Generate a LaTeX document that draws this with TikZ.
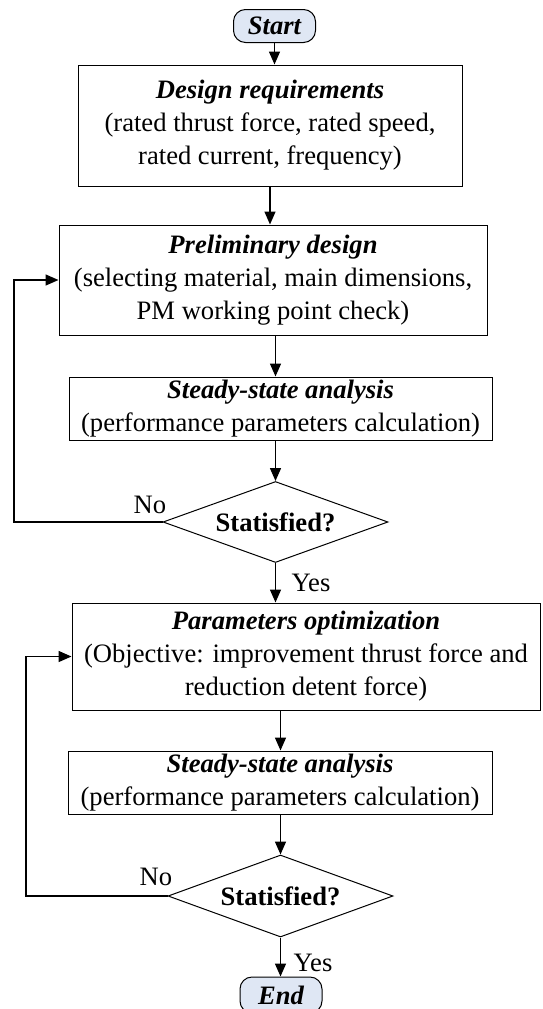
\documentclass[tikz,border=0pt]{standalone}
\usepackage{fontspec}
\setmainfont{Liberation Serif}
\usetikzlibrary{arrows.meta,shapes.geometric}
\definecolor{termfill}{HTML}{DFE7F4}
\tikzset{
  box/.style={draw, line width=1pt, align=center, inner sep=0pt,
    font=\fontsize{26.6}{33}\selectfont},
  term/.style={draw, line width=1pt, rounded corners=12pt, fill=termfill,
    inner sep=0pt, font=\fontsize{26.6}{33}\selectfont\bfseries\itshape},
  dec/.style={draw, line width=1pt, diamond, aspect=2.74, inner sep=0pt,
    font=\fontsize{26.6}{33}\selectfont\bfseries},
  arr/.style={line width=1.5pt, -{Triangle[length=13pt,width=11pt]}},
  lbl/.style={font=\fontsize{26.6}{33}\selectfont, inner sep=0pt}
}
\begin{document}
\begin{tikzpicture}[x=1pt,y=-1pt]
\useasboundingbox (0,0) rectangle (542,1009);
\fill[white] (0,0) rectangle (542,1009);

\node[term, minimum width=82pt, minimum height=33pt] (start) at (274.5,26) {Start};

\node[box, minimum width=384pt, minimum height=121pt] (design) at (270,125.5)
  {\textbf{\textit{Design requirements}}\\(rated thrust force, rated speed,\\rated current, frequency)};

\node[box, minimum width=428pt, minimum height=110pt] (pre) at (273,280)
  {\textbf{\textit{Preliminary design}}\\(selecting material, main dimensions,\\PM working point check)};

\node[box, minimum width=423pt, minimum height=63pt] (ss1) at (280.5,408.5)
  {\textbf{\textit{Steady-state analysis}}\\(performance parameters calculation)};

\node[dec, minimum width=225pt, minimum height=81pt] (d1) at (275.5,522) {Statisfied?};

\node[box, minimum width=468pt, minimum height=107pt] (par) at (306,656.5)
  {\textbf{\textit{Parameters optimization}}\\(Objective: improvement thrust force and\\reduction detent force)};

\node[box, minimum width=424pt, minimum height=63pt] (ss2) at (280,782.5)
  {\textbf{\textit{Steady-state analysis}}\\(performance parameters calculation)};

\node[dec, minimum width=225pt, minimum height=82pt] (d2) at (280.5,896) {Statisfied?};

\node[term, minimum width=82pt, minimum height=36pt] (end) at (281,995) {End};

\draw[arr] (start.south) -- (start.south |- design.north);
\draw[arr] (design.south) -- (design.south |- pre.north);
\draw[arr] (pre.south -| d1.north) -- (ss1.north -| d1.north);
\draw[arr] (ss1.south -| d1.north) -- (d1.north);
\draw[arr] (d1.south) -- (d1.south |- par.north);
\draw[arr] (par.south -| d2.north) -- (ss2.north -| d2.north);
\draw[arr] (ss2.south -| d2.north) -- (d2.north);
\draw[arr] (d2.south) -- (d2.south |- end.north);

\coordinate (c1) at (14,522);
\coordinate (c2) at (26,896);
\draw[arr] (d1.west) -- (c1) |- (pre.west);
\draw[arr] (d2.west) -- (c2) |- (par.west);

\node[lbl] (no1) at (150,505) {No};
\node[lbl] (yes1) at (311,583) {Yes};
\node[lbl] (no2) at (156,877) {No};
\node[lbl] (yes2) at (313,963) {Yes};
\end{tikzpicture}
\end{document}
